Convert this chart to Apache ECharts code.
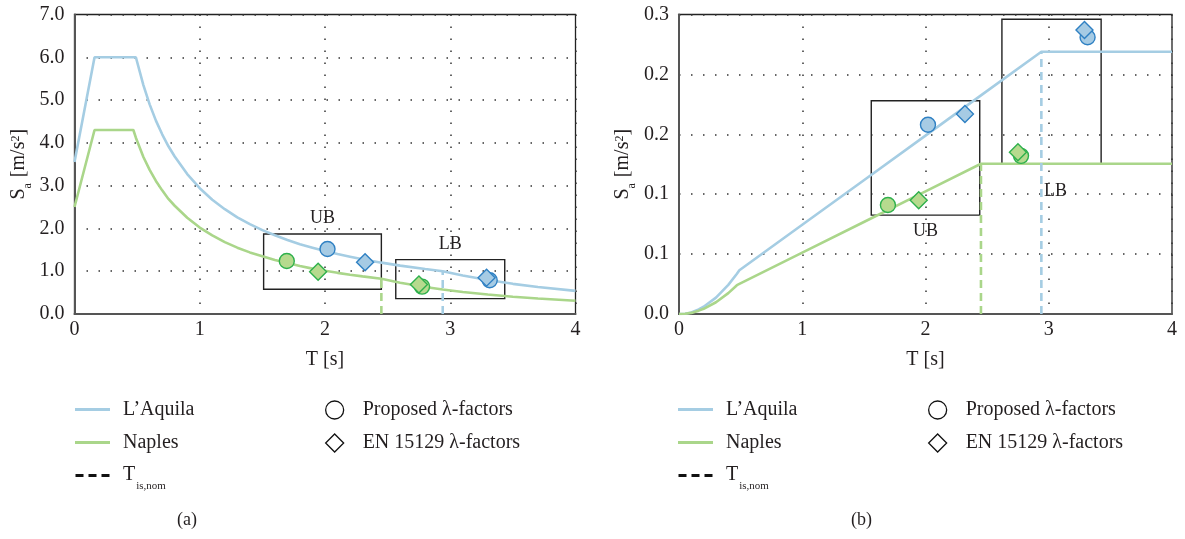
<!DOCTYPE html>
<html>
<head>
<meta charset="utf-8">
<script src="https://cdn.jsdelivr.net/npm/echarts@6/dist/echarts.min.js"></script>
<style>
  html, body { margin: 0; padding: 0; background: #fff; }
  #chart { width: 1185px; height: 539px; }
</style>
</head>
<body>
<div id="chart"></div>
<script>
// ---- Spectral acceleration Sa(T) [m/s²], panel (a) ----
const periodsSa = [0, 0.16, 0.47, 0.49, 0.55, 0.6, 0.65, 0.7, 0.75, 0.8, 0.9, 1.0, 1.1, 1.2, 1.3, 1.4, 1.5,
  1.6, 1.7, 1.8, 1.9, 2.0, 2.1, 2.2, 2.3, 2.45, 2.6, 2.8, 2.94, 3.1, 3.3, 3.5, 3.7, 4.0];
const aquilaSa = [3.55, 6.0, 6.0, 6.0, 5.35, 4.90, 4.52, 4.20, 3.92, 3.68, 3.27, 2.94, 2.67, 2.45, 2.26, 2.10, 1.96,
  1.84, 1.73, 1.63, 1.55, 1.47, 1.40, 1.34, 1.28, 1.20, 1.13, 1.05, 1.00, 0.899, 0.793, 0.705, 0.631, 0.54];
const naplesSa = [2.50, 4.30, 4.30, 4.12, 3.67, 3.37, 3.11, 2.89, 2.69, 2.53, 2.25, 2.02, 1.84, 1.68, 1.55, 1.44, 1.35,
  1.26, 1.19, 1.12, 1.06, 1.01, 0.962, 0.919, 0.879, 0.825, 0.732, 0.632, 0.573, 0.515, 0.455, 0.404, 0.362, 0.309];

// ---- Panel (b) ----
const periodsSd = [0, 0.05, 0.1, 0.16, 0.2, 0.3, 0.4, 0.47, 0.49, 1.0, 1.5, 2.0, 2.45, 2.94, 4.0];
const aquilaSd = [0, 0.00027, 0.00129, 0.00389, 0.00608, 0.01368, 0.02432, 0.03357, 0.03649, 0.0745, 0.1117, 0.1489, 0.1825, 0.2189, 0.2189];
const naplesSd = [0, 0.00019, 0.00092, 0.00279, 0.00436, 0.00980, 0.01742, 0.02406, 0.02508, 0.0512, 0.0768, 0.1024, 0.1254, 0.1254, 0.1254];

// ---- Nominal isolation periods T_is,nom ----
const tisAquila = 2.94;
const tisNaples = 2.45;
const tisTopSa = [1.00, 0.825];   // [L'Aquila, Naples]
const tisTopSd = [0.2189, 0.1254];

// ---- Lambda-factor points ----
const aquilaProposedT = [2.02, 3.315];
const aquilaProposedSa = [1.52, 0.79];
const aquilaProposedSd = [0.158, 0.231];
const naplesProposedT = [1.695, 2.775];
const naplesProposedSa = [1.24, 0.64];
const naplesProposedSd = [0.091, 0.132];
const aquilaEnT = [2.32, 3.29];
const aquilaEnSa = [1.21, 0.85];
const aquilaEnSd = [0.167, 0.237];
const naplesEnT = [1.945, 2.75];
const naplesEnSa = [0.99, 0.69];
const naplesEnSd = [0.095, 0.135];

// ---- Upper / lower bound boxes ----
const boxLabels = ['UB', 'LB'];
const boxTSa = [[1.51, 2.45], [2.565, 3.435]];
const boxSa = [[0.58, 1.87], [0.36, 1.27]];
const boxTSd = [[1.56, 2.44], [2.62, 3.425]];
const boxSd = [[0.0825, 0.178], [0.125, 0.246]];

// ---- Axis tick labels ----
const tTicks = ['0', '1', '2', '3', '4'];
const saTicks = ['0.0', '1.0', '2.0', '3.0', '4.0', '5.0', '6.0', '7.0'];
const sdTicks = ['0.0', '0.1', '0.1', '0.2', '0.2', '0.3'];

const FONT = "'Liberation Serif', 'DejaVu Serif', serif";
const TEXT = '#231f20';
const BLUE = '#a5cde3';
const GREEN = '#aad68a';
const BLUE_FILL = '#a6cbe4';
const BLUE_EDGE = '#2f80c3';
const GREEN_FILL = '#b6da8e';
const GREEN_EDGE = '#2eb04c';

const N_AQ = 'L’Aquila';
const N_NA = 'Naples';
const N_TIS = 'Tis';
const N_PROP = 'Proposed λ-factors';
const N_EN = 'EN 15129 λ-factors';

const pairs = (ts, vs) => ts.map((t, i) => [t, vs[i]]);

function xAxisFor(gi) {
  return {
    type: 'value', gridIndex: gi, min: 0, max: 4, interval: 1,
    name: 'T [s]', nameLocation: 'middle', nameGap: 36,
    nameTextStyle: { fontFamily: FONT, fontSize: 20, color: TEXT },
    axisLine: { show: true, onZero: false, lineStyle: { color: '#555', width: 2 } },
    axisTick: { show: false },
    axisLabel: { fontFamily: FONT, fontSize: 20, color: TEXT, margin: 6,
      formatter: v => tTicks[Math.round(v)] },
    splitLine: { show: true, lineStyle: { color: '#333', width: 1.5, type: [1.5, 10.5] } }
  };
}

function yAxisFor(gi, max, interval, ticks) {
  return {
    type: 'value', gridIndex: gi, min: 0, max: max, interval: interval,
    name: '{t|S}{sub|a}{t| [m/s}{sup|2}{t|]}', nameLocation: 'middle', nameGap: 41, nameRotate: 90,
    nameTextStyle: {
      fontFamily: FONT, fontSize: 20, color: TEXT,
      rich: {
        t: { fontFamily: FONT, fontSize: 20, color: TEXT, lineHeight: 22, verticalAlign: 'top' },
        sub: { fontFamily: FONT, fontSize: 12, color: TEXT, verticalAlign: 'top', padding: [13, 1, 0, 0] },
        sup: { fontFamily: FONT, fontSize: 12, color: TEXT, verticalAlign: 'top', padding: [1, 0, 0, 0] }
      }
    },
    axisLine: { show: true, onZero: false, lineStyle: { color: '#555', width: 2 } },
    axisTick: { show: false },
    axisLabel: { fontFamily: FONT, fontSize: 20, color: TEXT, margin: 10,
      formatter: v => ticks[Math.round(v / interval)] },
    splitLine: { show: true, lineStyle: { color: '#333', width: 1.5, type: [1.5, 10.5] } }
  };
}

function curve(name, gi, ts, vs, color, extra) {
  return Object.assign({
    type: 'line', name: name, xAxisIndex: gi, yAxisIndex: gi,
    data: pairs(ts, vs), symbol: 'none', silent: true,
    lineStyle: { color: color, width: 2.6 }, itemStyle: { color: color }, z: 3
  }, extra || {});
}

function dashed(gi, t, top, color) {
  return {
    type: 'line', name: N_TIS, xAxisIndex: gi, yAxisIndex: gi,
    data: [[t, 0], [t, top]], symbol: 'none', silent: true,
    lineStyle: { color: color, width: 2.6, type: [8, 5] }, itemStyle: { color: '#111' }, z: 4
  };
}

function markers(name, gi, ts, vs, symbol, size, fill, edge, z) {
  return {
    type: 'scatter', name: name, xAxisIndex: gi, yAxisIndex: gi,
    data: pairs(ts, vs), symbol: symbol, symbolSize: size, silent: true,
    itemStyle: { color: fill, borderColor: edge, borderWidth: 1.4, opacity: 1 }, z: z
  };
}

function boxArea(tRanges, vRanges, labelPos, labelTweaks) {
  return {
    silent: true,
    itemStyle: { color: 'rgba(0,0,0,0)', borderColor: '#222', borderWidth: 1.4 },
    label: { show: true, position: labelPos, distance: 6, fontFamily: FONT, fontSize: 18, color: TEXT },
    data: boxLabels.map((lab, i) => [
      Object.assign({ name: lab, coord: [tRanges[i][0], vRanges[i][0]] },
        labelTweaks && labelTweaks[i] ? { label: labelTweaks[i] } : {}),
      { coord: [tRanges[i][1], vRanges[i][1]] }
    ])
  };
}

const legendText = {
  fontFamily: FONT, fontSize: 20, color: TEXT, lineHeight: 22,
  rich: {
    t: { fontFamily: FONT, fontSize: 20, color: TEXT, lineHeight: 22, verticalAlign: 'top' },
    sub: { fontFamily: FONT, fontSize: 11, color: TEXT, verticalAlign: 'top', padding: [16, 0, 0, 1] }
  }
};
const legendFormatter = name => name === N_TIS ? '{t|T}{sub|is,nom}' : name;
const DASH_ICON = 'path://M0,0h8v3h-8z M13,0h8v3h-8z M26,0h8v3h-8z';

function legends(x0) {
  return [
    {
      orient: 'vertical', left: x0, top: 398.5, padding: 0, itemWidth: 35, itemHeight: 3, itemGap: 11,
      selectedMode: false, formatter: legendFormatter,
      textStyle: Object.assign({}, legendText, { padding: [0, 0, 0, 8] }),
      data: [
        { name: N_AQ, icon: 'rect', itemStyle: { color: BLUE } },
        { name: N_NA, icon: 'rect', itemStyle: { color: GREEN } },
        { name: N_TIS, icon: DASH_ICON, itemStyle: { color: '#111' } }
      ]
    },
    {
      orient: 'vertical', left: x0 + 250, top: 399, padding: 0, itemWidth: 18, itemHeight: 18, itemGap: 11,
      selectedMode: false,
      textStyle: Object.assign({}, legendText, { padding: [0, 0, 0, 14] }),
      data: [
        { name: N_PROP, icon: 'circle', itemStyle: { color: '#fff', borderColor: '#111', borderWidth: 1.3 } },
        { name: N_EN, icon: 'diamond', itemStyle: { color: '#fff', borderColor: '#111', borderWidth: 1.3 } }
      ]
    }
  ];
}

const chart = echarts.init(document.getElementById('chart'), null, { renderer: 'canvas' });
chart.setOption({
  animation: false,
  backgroundColor: '#fff',
  grid: [
    { left: 74.5, top: 14.5, width: 501, height: 299.5, show: true, borderColor: '#222', borderWidth: 1.3, backgroundColor: 'rgba(0,0,0,0)' },
    { left: 679, top: 14.5, width: 493, height: 299.5, show: true, borderColor: '#222', borderWidth: 1.3, backgroundColor: 'rgba(0,0,0,0)' }
  ],
  xAxis: [xAxisFor(0), xAxisFor(1)],
  yAxis: [yAxisFor(0, 7, 1, saTicks), yAxisFor(1, 0.25, 0.05, sdTicks)],
  legend: legends(75).concat(legends(678)),
  graphic: [
    { type: 'text', left: 177, top: 511, style: { text: '(a)', font: '18px ' + FONT, fill: TEXT } },
    { type: 'text', left: 851, top: 511, style: { text: '(b)', font: '18px ' + FONT, fill: TEXT } }
  ],
  series: [
    // panel (a)
    curve(N_AQ, 0, periodsSa, aquilaSa, BLUE, { markArea: boxArea(boxTSa, boxSa, 'top') }),
    curve(N_NA, 0, periodsSa, naplesSa, GREEN),
    dashed(0, tisAquila, tisTopSa[0], BLUE),
    dashed(0, tisNaples, tisTopSa[1], GREEN),
    markers(N_PROP, 0, aquilaProposedT, aquilaProposedSa, 'circle', 15, BLUE_FILL, BLUE_EDGE, 5),
    markers(N_PROP, 0, naplesProposedT, naplesProposedSa, 'circle', 15, GREEN_FILL, GREEN_EDGE, 5),
    markers(N_EN, 0, aquilaEnT, aquilaEnSa, 'diamond', 17, BLUE_FILL, BLUE_EDGE, 6),
    markers(N_EN, 0, naplesEnT, naplesEnSa, 'diamond', 17, GREEN_FILL, GREEN_EDGE, 6),
    // panel (b)
    curve(N_AQ, 1, periodsSd, aquilaSd, BLUE,
      { markArea: boxArea(boxTSd, boxSd, 'bottom', [null, { distance: 17, offset: [4, 0] }]) }),
    curve(N_NA, 1, periodsSd, naplesSd, GREEN),
    dashed(1, tisAquila, tisTopSd[0], BLUE),
    dashed(1, tisNaples, tisTopSd[1], GREEN),
    markers(N_PROP, 1, aquilaProposedT, aquilaProposedSd, 'circle', 15, BLUE_FILL, BLUE_EDGE, 5),
    markers(N_PROP, 1, naplesProposedT, naplesProposedSd, 'circle', 15, GREEN_FILL, GREEN_EDGE, 5),
    markers(N_EN, 1, aquilaEnT, aquilaEnSd, 'diamond', 17, BLUE_FILL, BLUE_EDGE, 6),
    markers(N_EN, 1, naplesEnT, naplesEnSd, 'diamond', 17, GREEN_FILL, GREEN_EDGE, 6)
  ]
});
</script>
</body>
</html>
